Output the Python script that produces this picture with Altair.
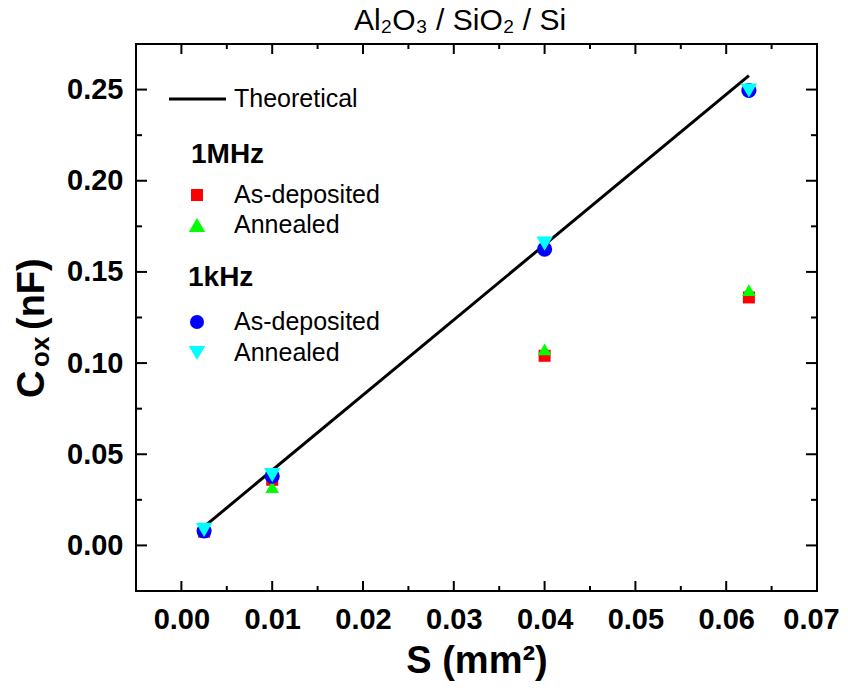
import altair as alt
import pandas as pd

# ---- data ----
area_mm2 = [0.0025, 0.01, 0.04, 0.0625]
mhz_as_deposited = [0.0075, 0.036, 0.104, 0.136]
mhz_annealed = [0.0085, 0.032, 0.1075, 0.140]
khz_as_deposited = [0.008, 0.038, 0.1625, 0.2495]
khz_annealed = [0.0085, 0.0385, 0.1655, 0.2495]
theory_x = [0.0025, 0.0625]
theory_y = [0.0103, 0.2577]

series_names = ["1MHz As-deposited", "1MHz Annealed", "1kHz As-deposited", "1kHz Annealed"]
series_values = [mhz_as_deposited, mhz_annealed, khz_as_deposited, khz_annealed]
series_colors = ["#ff0000", "#00ff00", "#0000ff", "#00ffff"]
series_shapes = ["square", "triangle-up", "circle", "triangle-down"]
series_sizes = [144, 270, 196, 270]

x_major = [0.00, 0.01, 0.02, 0.03, 0.04, 0.05, 0.06, 0.07]
x_minor = [0.005, 0.015, 0.025, 0.035, 0.045, 0.055, 0.065]
y_major = [0.00, 0.05, 0.10, 0.15, 0.20, 0.25]
y_minor = [0.025, 0.075, 0.125, 0.175, 0.225]

X_DOMAIN = [-0.005, 0.07]
Y_DOMAIN = [-0.025, 0.275]
W, H = 681, 547
FONT = "Liberation Sans"

rows = []
for i, (name, vals) in enumerate(zip(series_names, series_values)):
    for xv, yv in zip(area_mm2, vals):
        rows.append({"series": name, "S": xv, "C": yv, "k": i})
pts = pd.DataFrame(rows)
theory = pd.DataFrame({"S": theory_x, "C": theory_y})

xs = alt.Scale(domain=X_DOMAIN, nice=False, zero=False)
ys = alt.Scale(domain=Y_DOMAIN, nice=False, zero=False)

x_axis = alt.Axis(values=x_major, format=".2f", title="S (mm²)", domain=False, ticks=False,
                  grid=False, labelFont=FONT, labelFontSize=29, labelFontWeight="bold",
                  labelColor="black", labelPadding=14, labelFlush=False,
                  labelOffset=alt.condition("datum.value >= 0.0695", alt.value(-6), alt.value(0)),
                  titleFont=FONT, titleFontSize=38, titleFontWeight="bold", titleColor="black",
                  titlePadding=8)
y_axis = alt.Axis(values=y_major, format=".2f", title="", domain=False, ticks=False,
                  grid=False, labelFont=FONT, labelFontSize=29, labelFontWeight="bold",
                  labelColor="black", labelPadding=13, labelFlush=False)

X = lambda f: alt.X(f, scale=xs, axis=x_axis, title="S (mm²)")
Y = lambda f: alt.Y(f, scale=ys, axis=y_axis, title="")

line = alt.Chart(theory).mark_line(color="black", strokeWidth=3).encode(
    x=X("S:Q"), y=Y("C:Q"),
)

points = alt.Chart(pts).mark_point(filled=True, opacity=1).encode(
    x=X("S:Q"), y=Y("C:Q"),
    color=alt.Color("series:N", scale=alt.Scale(domain=series_names, range=series_colors), legend=None),
    shape=alt.Shape("series:N", scale=alt.Scale(domain=series_names, range=series_shapes), legend=None),
    size=alt.Size("series:N", scale=alt.Scale(domain=series_names, range=series_sizes), legend=None),
    order=alt.Order("k:Q"),
)

# inward ticks on all four sides
def xticks(vals, length):
    df = pd.DataFrame({"S": vals})
    bottom = alt.Chart(df).mark_rule(color="black", strokeWidth=2).encode(
        x=X("S:Q"), y=alt.value(H), y2=alt.value(H - length))
    top = alt.Chart(df).mark_rule(color="black", strokeWidth=2).encode(
        x=X("S:Q"), y=alt.value(0), y2=alt.value(length))
    return [bottom, top]

def yticks(vals, length):
    df = pd.DataFrame({"C": vals})
    left = alt.Chart(df).mark_rule(color="black", strokeWidth=2).encode(
        y=Y("C:Q"), x=alt.value(0), x2=alt.value(length))
    right = alt.Chart(df).mark_rule(color="black", strokeWidth=2).encode(
        y=Y("C:Q"), x=alt.value(W), x2=alt.value(W - length))
    return [left, right]

tick_layers = xticks(x_major, 10) + xticks(x_minor, 5) + yticks(y_major, 11) + yticks(y_minor, 6)

one = pd.DataFrame({"a": [0]})

# chart title as a text mark above the plot
title_layer = alt.Chart(one).mark_text(
    text="Al₂O₃ / SiO₂ / Si", align="center", baseline="alphabetic", font=FONT, fontSize=30,
    fontWeight="normal", color="black").encode(x=alt.value(324), y=alt.value(-14))

# y-axis title composed as C + subscript "ox" + "(nF)", rotated
def ytitle_part(txt, size, x, y):
    return alt.Chart(one).mark_text(text=txt, align="left", baseline="alphabetic", angle=270,
                                    font=FONT, fontSize=size, fontWeight="bold",
                                    color="black").encode(x=alt.value(x), y=alt.value(y))

ytitle_layers = [
    ytitle_part("C", 38, -92, 354),
    ytitle_part("ox", 26, -87, 323),
    ytitle_part("(nF)", 38, -92, 286),
]

# manual legend
def legend_text(txt, x, y, size=25, weight="normal"):
    return alt.Chart(one).mark_text(text=txt, align="left", baseline="middle", font=FONT,
                                    fontSize=size, fontWeight=weight, color="black").encode(
        x=alt.value(x), y=alt.value(y))

def legend_symbol(shape, color, size, x, y):
    return alt.Chart(one).mark_point(shape=shape, color=color, filled=True, opacity=1,
                                     size=size).encode(x=alt.value(x), y=alt.value(y))

legend_layers = [
    alt.Chart(one).mark_rule(color="black", strokeWidth=3).encode(
        x=alt.value(33), x2=alt.value(90), y=alt.value(55)),
    legend_text("Theoretical", 98, 55),
    legend_text("1MHz", 55, 111, size=28, weight="bold"),
    legend_symbol(series_shapes[0], series_colors[0], series_sizes[0], 61, 151),
    legend_text("As-deposited", 98, 151),
    legend_symbol(series_shapes[1], series_colors[1], series_sizes[1], 61, 181),
    legend_text("Annealed", 98, 181),
    legend_text("1kHz", 52, 234, size=28, weight="bold"),
    legend_symbol(series_shapes[2], series_colors[2], series_sizes[2], 61, 278),
    legend_text("As-deposited", 98, 278),
    legend_symbol(series_shapes[3], series_colors[3], series_sizes[3], 61, 309),
    legend_text("Annealed", 98, 309),
]

chart = alt.layer(line, *tick_layers, points, title_layer, *ytitle_layers,
                  *legend_layers).properties(
    width=W, height=H,
    autosize=alt.AutoSizeParams(type="none"),
    padding={"left": 128, "top": 36, "right": 23, "bottom": 94},
    background="white",
).configure_view(stroke="black", strokeWidth=2)

chart.save("out.html", embed_options={"renderer": "svg", "actions": False})
